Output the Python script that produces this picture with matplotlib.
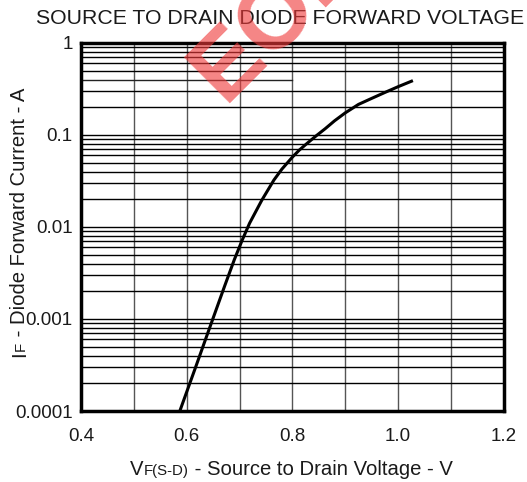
import numpy as np
import matplotlib.pyplot as plt

plt.rcParams['font.family'] = ['Liberation Sans', 'DejaVu Sans']

# curve
vf = [0.587, 0.616, 0.644, 0.672, 0.69, 0.705, 0.719, 0.742, 0.765, 0.78, 0.80, 0.813,
      0.826, 0.845, 0.862, 0.88, 0.90, 0.925, 0.95, 0.975, 1.0, 1.028]
i_f = [1e-4, 2.9e-4, 8.2e-4, 2.3e-3, 4.4e-3, 7.2e-3, 1.1e-2, 1.95e-2, 3.24e-2, 4.25e-2,
       5.75e-2, 6.85e-2, 7.95e-2, 9.8e-2, 0.117, 0.143, 0.174, 0.215, 0.25, 0.29, 0.335, 0.39]

x_ticks = [0.4, 0.6, 0.8, 1.0, 1.2]
x_tick_labels = ['0.4', '0.6', '0.8', '1.0', '1.2']
y_ticks = [1e-4, 1e-3, 1e-2, 1e-1, 1]
y_tick_labels = ['0.0001', '0.001', '0.01', '0.1', '1']

txt_col = '#1a1a1a'

fig = plt.figure(figsize=(5.27, 4.82), dpi=100)
ax = fig.add_axes([0.1537, 0.1473, 0.8023, 0.7635])
ax.set_yscale('log')
ax.set_xlim(0.4, 1.2)
ax.set_ylim(1e-4, 1)

# vertical grid every 0.1 V
for x in np.arange(0.5, 1.15, 0.1):
    ax.axvline(x, color='#555555', lw=1.0, zorder=1)

# horizontal log grid, the 0.4 A line only runs to 0.8 V in the original
for dec in [1e-4, 1e-3, 1e-2, 1e-1]:
    for m in range(1, 10):
        y = dec * m
        if y <= 1e-4:
            continue
        if abs(y - 0.4) < 1e-9:
            ax.axhline(y, xmax=0.5, color='#222222', lw=1.0, zorder=1)
        else:
            ax.axhline(y, color='black', lw=1.0, zorder=1)

ax.plot(vf, i_f, color='black', lw=2.2, zorder=3, solid_capstyle='butt', solid_joinstyle='round')

ax.set_xticks(x_ticks)
ax.set_xticklabels(x_tick_labels)
ax.set_yticks(y_ticks)
ax.set_yticklabels(y_tick_labels)
ax.minorticks_off()
ax.tick_params(length=0, labelsize=13.5, colors=txt_col)
ax.tick_params(axis='x', pad=12)
ax.tick_params(axis='y', pad=6)
for s in ax.spines.values():
    s.set_linewidth(2.5)

fig.text(0.532, 0.962, 'SOURCE TO DRAIN DIODE FORWARD VOLTAGE', ha='center', va='center',
         fontsize=15.3, color=txt_col)

renderer = fig.canvas.get_renderer()
inv = fig.transFigure.inverted()


def run_of_text(pieces, x0, y0, vertical=False):
    # lay out text pieces of different sizes one after another
    x, y = x0, y0
    for s, size in pieces:
        t = fig.text(x, y, s, fontsize=size, color=txt_col, ha='left', va='baseline',
                     rotation=90 if vertical else 0, rotation_mode='anchor')
        bb = t.get_window_extent(renderer)
        (fx0, fy0), (fx1, fy1) = inv.transform([[bb.x0, bb.y0], [bb.x1, bb.y1]])
        if vertical:
            y += fy1 - fy0
        else:
            x += fx1 - fx0


run_of_text([('V', 14.6), ('F(S-D)', 10.8), (' - Source to Drain Voltage - V', 14.6)], 0.247, 0.014)
run_of_text([('I', 14.6), ('F', 10.8), (' - Diode Forward Current - A', 14.6)], 0.047, 0.26,
            vertical=True)

# EOL watermark
fig.text(0.425, 0.785, 'EOL', fontsize=68, fontweight='bold', color='#f03a3a', alpha=0.62,
         rotation=45, rotation_mode='anchor', ha='left', va='baseline', zorder=10)

fig.savefig('out.png', dpi=100)
